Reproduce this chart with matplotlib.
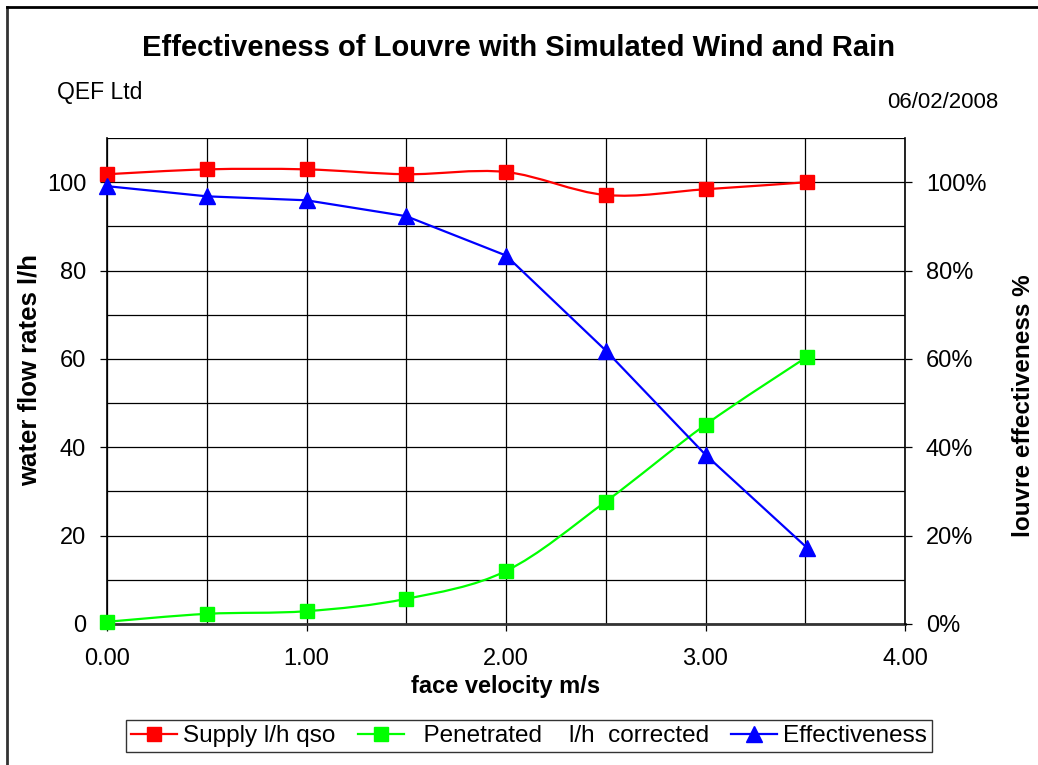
import matplotlib
matplotlib.use('agg')
import numpy as np
import matplotlib.pyplot as plt
from matplotlib.path import Path
from matplotlib.patches import PathPatch
from matplotlib.lines import Line2D
from matplotlib.ticker import MultipleLocator, FuncFormatter

plt.rcParams['font.family'] = ['Liberation Sans', 'DejaVu Sans']

# face velocity m/s
velocity = [0.0, 0.5, 1.0, 1.5, 2.0, 2.5, 3.0, 3.51]
# water flow rates l/h
supply = [101.8, 102.9, 102.9, 101.8, 102.3, 97.1, 98.4, 100.0]
penetrated = [0.5, 2.3, 2.9, 5.7, 12.0, 27.7, 45.1, 60.5]
# louvre effectiveness (fraction)
effectiveness = [0.991, 0.968, 0.959, 0.923, 0.834, 0.619, 0.383, 0.172]


def smooth_path(xs, ys):
    # Excel-style smoothed line: cubic bezier segments through the points
    pts = np.column_stack([xs, ys])
    n = len(pts)
    verts = [pts[0]]
    codes = [Path.MOVETO]
    for i in range(n - 1):
        p0 = pts[max(i - 1, 0)]
        p1 = pts[i]
        p2 = pts[i + 1]
        p3 = pts[min(i + 2, n - 1)]
        c1 = p1 + (p2 - p0) / 6.0
        c2 = p2 - (p3 - p1) / 6.0
        verts += [c1, c2, p2]
        codes += [Path.CURVE4] * 3
    return Path(verts, codes)


fig = plt.figure(figsize=(10.38, 7.65), dpi=100)
ax = fig.add_axes([107/1038, 1-624/765, (905-107)/1038, (624-138)/765])

ax.set_xlim(0, 4)
ax.set_ylim(0, 110)
ax.xaxis.set_major_locator(MultipleLocator(1.0))
ax.xaxis.set_minor_locator(MultipleLocator(0.5))
ax.yaxis.set_major_locator(MultipleLocator(20))
ax.yaxis.set_minor_locator(MultipleLocator(10))
ax.xaxis.set_major_formatter(FuncFormatter(lambda v, p: '%.2f' % v))
ax.grid(True, which='both', color='black', linewidth=0.9)
ax.tick_params(which='minor', length=0)
ax.tick_params(which='major', direction='out', length=5, labelsize=17, width=0.9)
ax.tick_params(axis='x', pad=12)
ax.tick_params(axis='y', pad=10)
ax.set_axisbelow(True)
for s in ['top', 'right']:
    ax.spines[s].set_visible(False)
ax.spines['left'].set_linewidth(1.2)
ax.spines['bottom'].set_linewidth(2.0)
ax.spines['bottom'].set_color('#333333')

red = '#ff0000'
green = '#00ff00'
blue = '#0000ff'

ax.add_patch(PathPatch(smooth_path(velocity, supply), facecolor='none',
                       edgecolor=red, linewidth=1.6, zorder=3, clip_on=False))
ax.plot(velocity, supply, linestyle='none', marker='s', markersize=10,
        color=red, zorder=4, clip_on=False)
ax.add_patch(PathPatch(smooth_path(velocity, penetrated), facecolor='none',
                       edgecolor=green, linewidth=1.6, zorder=3, clip_on=False))
ax.plot(velocity, penetrated, linestyle='none', marker='s', markersize=10,
        color=green, zorder=4, clip_on=False)

ax2 = ax.twinx()
ax2.set_ylim(0, 1.1)
ax2.yaxis.set_major_locator(MultipleLocator(0.2))
ax2.yaxis.set_major_formatter(FuncFormatter(lambda v, p: '%d%%' % round(v * 100)))
ax2.tick_params(direction='out', length=5, labelsize=17, width=0.9, pad=10)
for s in ['top', 'left', 'bottom']:
    ax2.spines[s].set_visible(False)
ax2.spines['right'].set_linewidth(1.2)
ax2.plot(velocity, effectiveness, color=blue, linewidth=1.6, marker='^',
         markersize=11, zorder=4, clip_on=False)

ax.set_xlabel('face velocity m/s', fontsize=17, fontweight='bold', labelpad=4)
fig.text(30/1038, 1-370/765, 'water flow rates l/h', rotation=90,
         ha='center', va='center', fontsize=18.5, fontweight='bold')
fig.text(1024/1038, 1-406/765, 'louvre effectiveness %', rotation=90,
         ha='center', va='center', fontsize=17.5, fontweight='bold')

fig.text(0.5, 1-48/765, 'Effectiveness of Louvre with Simulated Wind and Rain',
         ha='center', va='center', fontsize=21, fontweight='bold')
fig.text(57/1038, 1-92/765, 'QEF Ltd', ha='left', va='center', fontsize=16.5)
fig.text(998/1038, 1-102/765, '06/02/2008', ha='right', va='center', fontsize=16)

handles = [
    Line2D([], [], color=red, marker='s', markersize=10, linewidth=1.6),
    Line2D([], [], color=green, marker='s', markersize=10, linewidth=1.6),
    Line2D([], [], color=blue, marker='^', markersize=11, linewidth=1.6),
]
labels = ['Supply l/h qso', '  Penetrated    l/h  corrected', 'Effectiveness']
leg = fig.legend(handles, labels, loc='center', bbox_to_anchor=(529/1038, 1-736/765),
                 ncol=3, fontsize=17.5, frameon=True, fancybox=False,
                 edgecolor='black', handlelength=1.9, handletextpad=0.25,
                 columnspacing=0.9, borderpad=0.2)
leg.get_frame().set_linewidth(1.0)

# chart border (left and top)
fig.add_artist(Line2D([6.5/1038, 6.5/1038], [0, 1-7/765], color='#333333',
                      linewidth=2, transform=fig.transFigure))
fig.add_artist(Line2D([6.5/1038, 1], [1-7/765, 1-7/765], color='black',
                      linewidth=2, transform=fig.transFigure))

fig.savefig('out.png', dpi=100)
